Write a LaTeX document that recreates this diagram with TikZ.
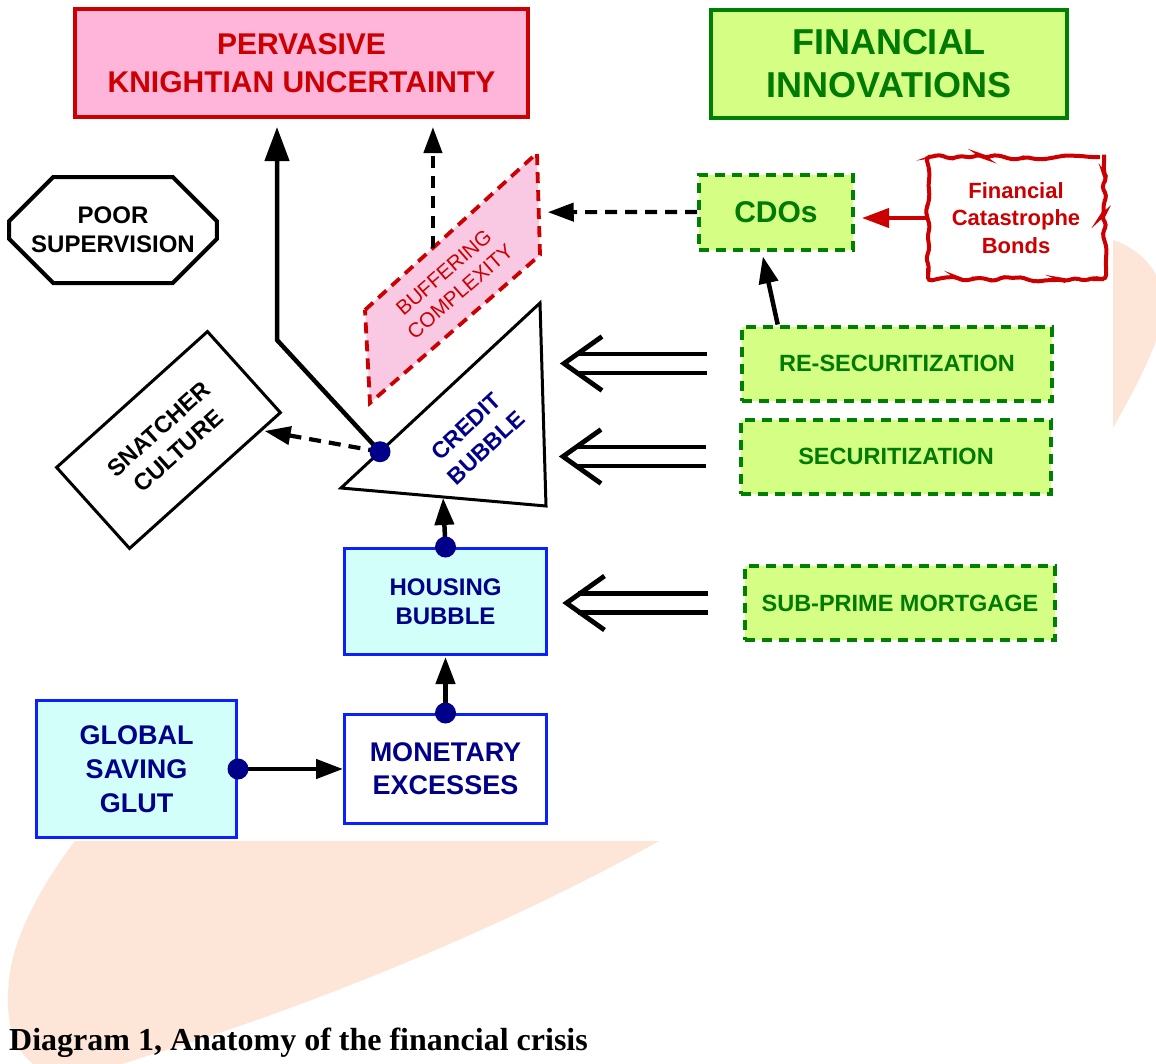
\documentclass[tikz,border=0pt]{standalone}
\usepackage{fontspec}
\setmainfont{Liberation Sans}
\newfontfamily\capfont{Liberation Serif}
\usetikzlibrary{arrows.meta,shapes.misc,decorations.pathmorphing,calc}
\definecolor{redc}{HTML}{CC0000}
\definecolor{pinkfill}{HTML}{FFB4DA}
\definecolor{bufpink}{HTML}{F9C8E2}
\definecolor{limec}{HTML}{D4FF84}
\definecolor{dgreen}{HTML}{008000}
\definecolor{tgreen}{HTML}{007A00}
\definecolor{cyanfill}{HTML}{D2FFF9}
\definecolor{bluec}{HTML}{0A20FF}
\definecolor{navyc}{HTML}{000088}
\definecolor{peachc}{HTML}{FDE6D8}
\tikzset{
  kbox/.style={draw=redc, fill=pinkfill, line width=4pt, minimum width=453pt, minimum height=108pt,
    text=redc, align=center, inner sep=0pt, font=\fontsize{30}{38}\selectfont\bfseries},
  fibox/.style={draw=dgreen, fill=limec, line width=4.5pt, minimum width=356pt, minimum height=108pt,
    text=tgreen, align=center, inner sep=0pt, font=\fontsize{36}{43}\selectfont\bfseries},
  poorbox/.style={chamfered rectangle, chamfered rectangle xsep=22pt, chamfered rectangle ysep=22pt,
    draw=black, line width=4pt, minimum width=202pt, minimum height=106pt, align=center, inner sep=0pt,
    font=\fontsize{24}{29}\selectfont\bfseries},
  snbox/.style={draw=black, line width=3pt, fill=white, minimum width=203pt, minimum height=109pt,
    rotate=42, align=center, inner sep=0pt, font=\fontsize{23.5}{29}\selectfont\bfseries},
  greenbox/.style={draw=dgreen, fill=limec, line width=4pt, dash pattern=on 10pt off 7pt,
    text=tgreen, align=center, inner sep=0pt, minimum width=310pt, minimum height=74pt,
    font=\fontsize{23.5}{29}\selectfont\bfseries},
  cyanbox/.style={draw=bluec, fill=cyanfill, line width=3pt, text=navyc, align=center, inner sep=0pt},
  wbox/.style={draw=bluec, fill=white, line width=3pt, text=navyc, align=center, inner sep=0pt},
  cloudbox/.style={draw=redc, fill=white, line width=4pt, decorate,
    decoration={random steps, segment length=8pt, amplitude=3pt}, rounded corners=4pt,
    minimum width=176pt, minimum height=122pt, text=redc, align=center, inner sep=0pt,
    font=\fontsize{22}{27.5}\selectfont\bfseries},
  solidarrow/.style={draw=black, line width=4.5pt, -{Triangle[length=27pt,width=19pt]}},
  bigarrow/.style={draw=black, line width=4.5pt, -{Triangle[length=34pt,width=24pt]}},
  dasharrow/.style={draw=black, line width=4.2pt, dash pattern=on 12pt off 8pt,
    -{Triangle[length=26pt,width=18pt]}},
  redarrow/.style={draw=redc, line width=4pt, -{Triangle[length=27pt,width=19pt]}},
  dbl/.style={draw=black, line width=4.8pt},
  dotc/.style={fill=navyc},
}
\newcommand{\DblArr}[3]{%
  \draw[dbl] ($(#1.west)+(-#2,-9.5)$) -- ++(-130,0);
  \draw[dbl] ($(#1.west)+(-#2,9.5)$) -- ++(-130,0);
  \draw[dbl, line join=miter] ($(#1.west)+(-#3+38,-27)$) -- ($(#1.west)+(-#3,0)$) -- ($(#1.west)+(-#3+38,27)$);
}
\begin{document}
\begin{tikzpicture}[x=1pt,y=-1pt]
\pgfmathsetseed{11}
\useasboundingbox (0,0) rectangle (1156,1063);
\fill[white] (0,0) rectangle (1156,1063);
% background shape
\fill[peachc] (75,841) .. controls (300,420) and (900,170) .. (1113,240)
  .. controls (1150,252) and (1175,290) .. (1160,330)
  .. controls (1150,360) and (1130,400) .. (1100,450)
  .. controls (1000,600) and (800,760) .. (659,841)
  .. controls (500,930) and (300,1010) .. (150,1055)
  .. controls (110,1068) and (80,1078) .. (60,1075)
  .. controls (10,1065) and (5,1020) .. (9,980)
  .. controls (13,935) and (45,880) .. (75,841) -- cycle;
\fill[white] (0,0) rectangle (1113,841);

% top boxes
\node[kbox] (kuc) at (301.5,63) {PERVASIVE\\KNIGHTIAN UNCERTAINTY};
\node[fibox] (fin) at (889,64) {FINANCIAL\\INNOVATIONS};
\node[poorbox] (poor) at (113,230) {POOR\\SUPERVISION};

% buffering complexity
\coordinate (p1) at (365,310);
\coordinate (p2) at (537,153);
\coordinate (p3) at (540,255);
\coordinate (p4) at (370,403);
\draw[draw=redc, fill=bufpink, line width=3.8pt, dash pattern=on 11pt off 7pt] (p1) -- (p2) -- (p3) -- (p4) -- cycle;
\node[text=redc, rotate=41, align=center, inner sep=0pt, font=\fontsize{20.5}{25}\selectfont] (buftxt) at (452,282) {BUFFERING\\COMPLEXITY};

% credit bubble triangle
\coordinate (tl) at (341,488);
\coordinate (tt) at (540,303);
\coordinate (tr) at (546,506);
\draw[black, line width=3pt, line join=miter] (tl) -- (tt) -- (tr) -- cycle;
\node[text=navyc, rotate=43, align=center, inner sep=0pt, font=\fontsize{23}{29}\selectfont\bfseries] (credit) at (476,437) {CREDIT\\BUBBLE};
\coordinate (d1) at ($(tl)!0.196!(tt)$);
\coordinate (tb) at ($(tl)!0.4976!(tr)$);

% snatcher culture
\node[snbox] (snat) at (168.5,440) {SNATCHER\\CULTURE};

% lower boxes
\node[cyanbox, minimum width=202pt, minimum height=106pt, font=\fontsize{24}{29}\selectfont\bfseries] (house) at (445.5,601.5) {HOUSING\\BUBBLE};
\node[wbox, minimum width=202pt, minimum height=109pt, font=\fontsize{27}{33}\selectfont\bfseries] (mon) at (445.5,769) {MONETARY\\EXCESSES};
\node[cyanbox, minimum width=200pt, minimum height=137pt, font=\fontsize{27}{34}\selectfont\bfseries] (glob) at (136.5,769) {GLOBAL\\SAVING\\GLUT};

% financial innovations side
\node[greenbox, minimum width=154pt, minimum height=75pt, font=\fontsize{30}{36}\selectfont\bfseries] (cdo) at (776,212) {CDOs};
\node[cloudbox] (cat) at (1016,218) {Financial\\Catastrophe\\Bonds};
\node[greenbox] (resec) at (897,363.5) {RE-SECURITIZATION};
\node[greenbox] (sec) at (896,456.5) {SECURITIZATION};
\node[greenbox] (sub) at (900,603) {SUB-PRIME MORTGAGE};

% connectors
\coordinate (bend) at (277,340);
\draw[bigarrow, line join=miter, shorten >=8pt] (d1) -- (bend) -- (bend |- kuc.south);
\coordinate (bt) at ($(p1)!0.395!(p2)$);
\draw[dasharrow, shorten >=8pt] (bt) -- (bt |- kuc.south);
\coordinate (pr) at ($(p2)!0.58!(p3)$);
\draw[dasharrow, shorten >=9pt] (cdo.west) -- (pr);
\coordinate (sn) at ($(snat.south east)!0.13!(snat.south west)$);
\draw[dasharrow, shorten >=2pt] (d1) -- (sn);
\draw[redarrow, shorten >=7pt] (cat.west) -- (cat.west -| cdo.east);
\draw[solidarrow, shorten >=5pt] ($(resec.north west)!0.12!(resec.north east)$) -- ($(cdo.south west)!0.41!(cdo.south east)$);
\draw[solidarrow, shorten >=1pt] (house.north) -- (tb);
\draw[solidarrow, shorten >=1pt] (mon.north) -- (house.south);
\draw[solidarrow, shorten >=0pt] (glob.east) -- (mon.west);

\DblArr{resec}{33}{176}
\DblArr{sec}{33}{176}
\DblArr{sub}{35.5}{176.5}

% dots
\fill[dotc] (d1) circle (10.5);
\fill[dotc] (house.north) circle (10.5);
\fill[dotc] (mon.north) circle (10.5);
\fill[dotc] (glob.east) circle (10.5);

% caption
\node[anchor=west, inner sep=0pt, font=\capfont\fontsize{32}{36}\selectfont\bfseries] (cap) at (9,1043) {Diagram 1, Anatomy of the financial crisis};
\end{tikzpicture}
\end{document}
